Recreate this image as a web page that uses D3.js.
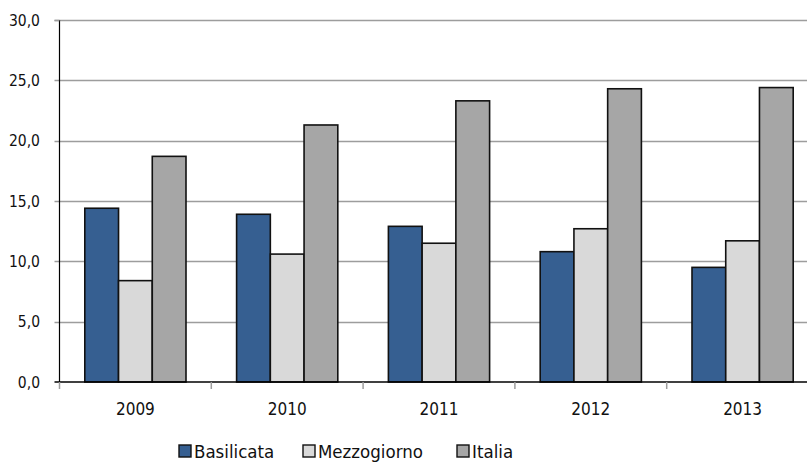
<!DOCTYPE html>
<meta charset="utf-8">
<html>
<head>
<style>
  body { margin: 0; background: #fff; }
  svg { display: block; font-family: 'DejaVu Sans Condensed', 'DejaVu Sans', sans-serif; }
  .grid line { stroke: #9d9d9d; stroke-width: 1.5px; }
  .ylab { font-size: 15.5px; fill: #111; }
  .xlab { font-size: 17px; fill: #111; }
  .legend text { font-size: 18.5px; fill: #111; }
</style>
</head>
<body>
<svg width="807" height="462"></svg>
<script src="https://cdn.jsdelivr.net/npm/d3@7"></script>
<script>
  var years = ["2009", "2010", "2011", "2012", "2013"];
  var seriesNames = ["Basilicata", "Mezzogiorno", "Italia"];
  var basilicata = [14.4, 13.9, 12.9, 10.8, 9.5];
  var mezzogiorno = [8.4, 10.6, 11.5, 12.7, 11.7];
  var italia = [18.7, 21.3, 23.3, 24.3, 24.4];
  var yTicks = [0, 5, 10, 15, 20, 25, 30];
  var colors = ["#365f91", "#d9d9d9", "#a6a6a6"];

  var allSeries = [basilicata, mezzogiorno, italia];

  var svg = d3.select("svg");
  // note: "top" is a reserved window prop, use plot* names
  var plotLeft = 59.5, plotRight = 818.5, plotTop = 20, plotBottom = 382;

  var x0 = d3.scaleBand().domain(years).range([plotLeft, plotRight]).padding(0);
  var x1 = d3.scaleBand().domain(seriesNames).range([0, x0.bandwidth()])
      .paddingInner(0).paddingOuter(0.75);
  var y = d3.scaleLinear().domain([0, 30]).range([plotBottom, plotTop]);
  var fmt = function(v) { return d3.format(".1f")(v).replace(".", ","); };

  // gridlines + y labels
  var grid = svg.append("g").attr("class", "grid");
  grid.selectAll("line").data(yTicks.filter(function(t) { return t > 0; }))
    .enter().append("line")
      .attr("x1", plotLeft - 5).attr("x2", 807)
      .attr("y1", function(d) { return Math.round(y(d)) + 0.5; })
      .attr("y2", function(d) { return Math.round(y(d)) + 0.5; });

  svg.append("g").selectAll("text").data(yTicks)
    .enter().append("text")
      .attr("class", "ylab")
      .attr("x", 40)
      .attr("y", function(d) { return y(d) + 5.5; })
      .attr("text-anchor", "end")
      .text(fmt);

  // bars
  var rows = years.map(function(yr, i) {
    return seriesNames.map(function(s, j) { return { year: yr, key: s, value: allSeries[j][i], idx: j }; });
  });

  svg.append("g").selectAll("g").data(rows)
    .enter().append("g")
      .attr("transform", function(d) { return "translate(" + x0(d[0].year) + ",0)"; })
    .selectAll("rect").data(function(d) { return d; })
    .enter().append("rect")
      .attr("x", function(d) { return x1(d.key); })
      .attr("width", x1.bandwidth())
      .attr("y", function(d) { return y(d.value); })
      .attr("height", function(d) { return y(0) - y(d.value); })
      .attr("fill", function(d) { return colors[d.idx]; })
      .attr("stroke", "#111")
      .attr("stroke-width", 1.6);

  // axes lines
  svg.append("line").attr("x1", plotLeft).attr("x2", plotLeft).attr("y1", plotTop).attr("y2", plotBottom)
      .attr("stroke", "#000").attr("stroke-width", 1.2);
  svg.append("line").attr("x1", plotLeft - 5).attr("x2", plotLeft).attr("y1", plotTop + 0.5).attr("y2", plotTop + 0.5)
      .attr("stroke", "#9d9d9d").attr("stroke-width", 1.5);
  svg.append("line").attr("x1", plotLeft - 5).attr("x2", 807).attr("y1", plotBottom).attr("y2", plotBottom)
      .attr("stroke", "#000").attr("stroke-width", 1.5);

  // x ticks at category boundaries
  var bounds = years.map(function(yr) { return x0(yr); });
  svg.append("g").selectAll("line").data(bounds)
    .enter().append("line")
      .attr("x1", function(d) { return d; }).attr("x2", function(d) { return d; })
      .attr("y1", plotBottom).attr("y2", plotBottom + 7)
      .attr("stroke", "#9d9d9d").attr("stroke-width", 1.5);

  svg.append("g").selectAll("text").data(years)
    .enter().append("text")
      .attr("class", "xlab")
      .attr("x", function(d) { return x0(d) + x0.bandwidth() / 2; })
      .attr("y", 415)
      .attr("text-anchor", "middle")
      .text(function(d) { return d; });

  // legend
  var legendX = [179, 303, 457];
  var lg = svg.append("g").attr("class", "legend").selectAll("g").data(seriesNames)
    .enter().append("g")
      .attr("transform", function(d, i) { return "translate(" + legendX[i] + ",445)"; });
  lg.append("rect").attr("width", 12).attr("height", 12)
      .attr("fill", function(d, i) { return colors[i]; })
      .attr("stroke", "#111").attr("stroke-width", 1.4);
  lg.append("text").attr("x", 15).attr("y", 12.5).text(function(d) { return d; });
</script>
</body>
</html>
